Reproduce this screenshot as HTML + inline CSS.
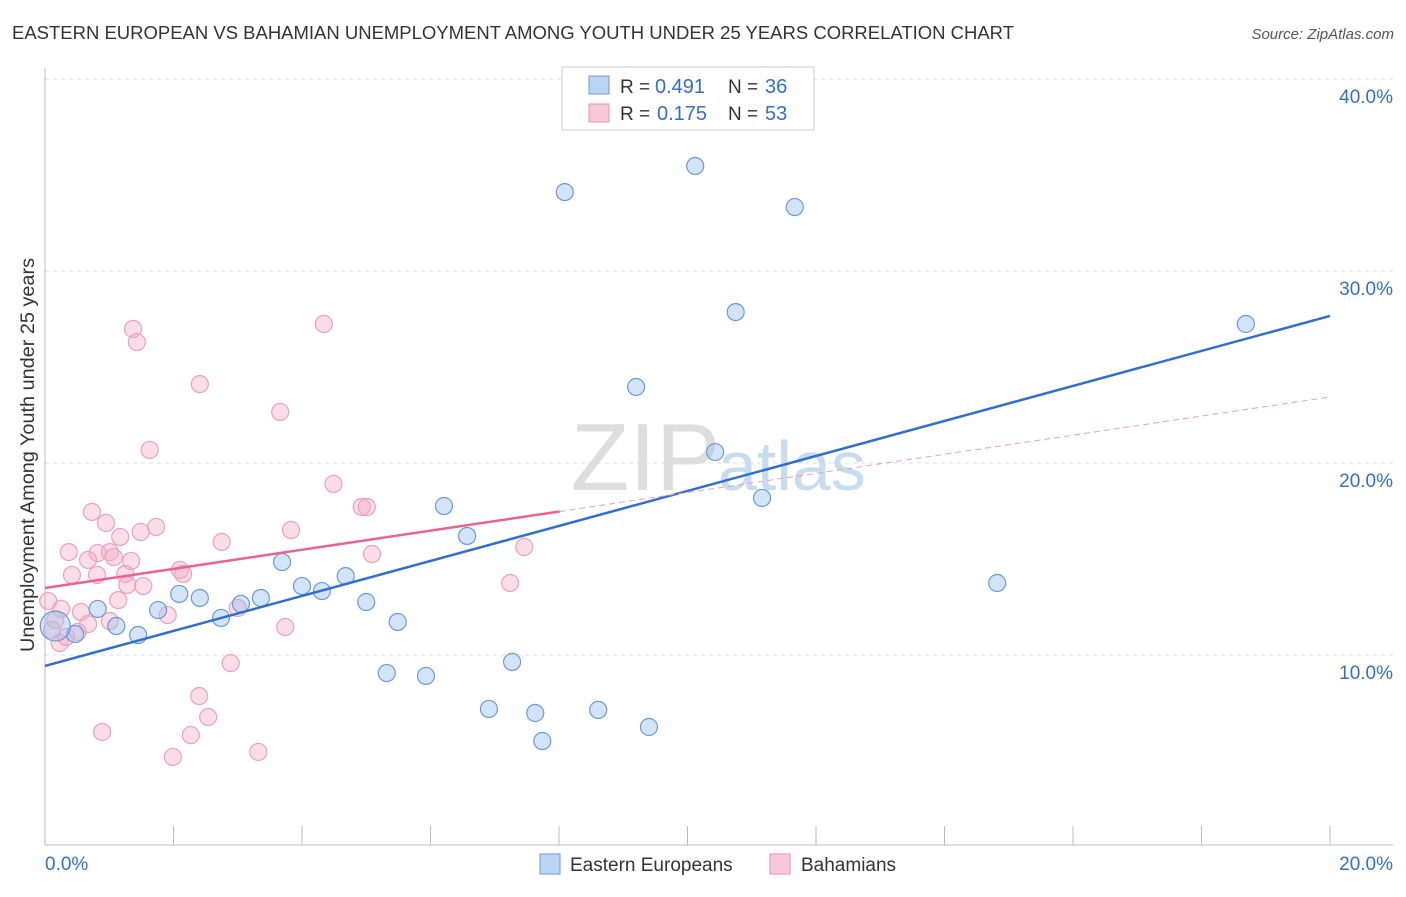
<!DOCTYPE html>
<html><head><meta charset="utf-8"><style>
body{margin:0;background:#fff;font-family:"Liberation Sans",sans-serif}
svg text{font-family:"Liberation Sans",sans-serif}
</style></head><body>
<svg width="1406" height="892">
<text x="12" y="39" font-size="18" fill="#333" textLength="1002" lengthAdjust="spacingAndGlyphs">EASTERN EUROPEAN VS BAHAMIAN UNEMPLOYMENT AMONG YOUTH UNDER 25 YEARS CORRELATION CHART</text>
<text x="1394" y="39" font-size="15" fill="#555" text-anchor="end" font-style="italic">Source: ZipAtlas.com</text>
<g id="grid"></g>
<text x="720" y="490" font-size="96" fill="#ddd" text-anchor="end" font-family="Liberation Serif">ZIP</text>
<text x="718" y="490" font-size="70" fill="#c8dcf0">atlas</text>
<g id="marks"></g>
<text x="34" y="455" font-size="19" fill="#333" text-anchor="middle" transform="rotate(-90 34 455)" textLength="394" lengthAdjust="spacingAndGlyphs">Unemployment Among Youth under 25 years</text>
<g>
<rect x="562" y="67" width="252" height="63" fill="#fff" stroke="#ccc"/>
<rect x="589" y="76" width="20" height="18" fill="#bcd4f4" stroke="#6a9ad8"/>
<rect x="589" y="104" width="20" height="18" fill="#f9c8d8" stroke="#e890b0"/>
<text x="620" y="93" font-size="19" fill="#333">R =</text><text x="655" y="93" font-size="20" fill="#2f6fd0">0.491</text>
<text x="728" y="93" font-size="19" fill="#333">N =</text><text x="765" y="93" font-size="20" fill="#2f6fd0">36</text>
<text x="620" y="120" font-size="19" fill="#333">R =</text><text x="657" y="120" font-size="20" fill="#2f6fd0">0.175</text>
<text x="728" y="120" font-size="19" fill="#333">N =</text><text x="765" y="120" font-size="20" fill="#2f6fd0">53</text>
</g>
<g>
<rect x="540" y="854" width="20" height="20" fill="#bcd4f4" stroke="#6a9ad8"/>
<text x="570" y="871" font-size="19" fill="#333">Eastern Europeans</text>
<rect x="770" y="854" width="20" height="20" fill="#f9c8d8" stroke="#e890b0"/>
<text x="801" y="871" font-size="19" fill="#333">Bahamians</text>
</g>
</svg>
<script>
const yTicks=[10,20,30,40];
const yTickLabels=["10.0%","20.0%","30.0%","40.0%"];
const xTickLabels=["0.0%","20.0%"];
const blueX=[8.09,10.12,11.67,10.75,18.69,9.20,10.43,11.16,6.21,6.57,3.69,4.68,4.00,4.31,2.09,2.41,3.05,3.36,1.76,0.82,5.00,2.74,1.11,1.45,0.47,0.16,5.49,14.82,5.32,5.93,7.27,6.91,7.63,8.61,7.74,9.40];
const blueY=[34.11,35.47,33.33,27.86,27.24,23.96,20.57,18.18,17.76,16.20,14.84,14.11,13.59,13.33,13.18,12.97,12.66,12.97,12.34,12.40,12.76,11.93,11.51,11.04,11.09,11.51,11.72,13.75,9.06,8.91,9.64,7.19,6.98,7.14,5.52,6.25];
const pinkX=[1.37,1.43,4.34,2.41,3.66,1.63,4.49,4.93,5.01,0.73,0.95,1.73,1.49,1.17,2.75,3.83,0.37,0.82,1.01,1.07,1.34,0.67,0.42,0.81,1.25,2.10,2.15,1.53,1.28,5.09,7.46,7.24,0.05,0.25,1.14,0.56,1.01,0.67,1.91,3.00,3.74,2.89,2.40,2.54,2.27,0.89,1.99,3.32,0.16,0.23,0.33,0.51,0.11];
const pinkY=[26.98,26.30,27.24,24.11,22.66,20.68,18.91,17.71,17.71,17.45,16.88,16.67,16.41,16.15,15.89,16.51,15.36,15.31,15.36,15.10,14.90,14.95,14.17,14.17,14.22,14.43,14.22,13.59,13.65,15.26,15.63,13.75,12.81,12.40,12.86,12.24,11.77,11.61,12.08,12.45,11.46,9.58,7.86,6.77,5.83,5.99,4.69,4.95,11.82,10.63,10.94,11.20,11.30];
const blueTrend=[9.43,27.66];
const pinkTrend=[13.49,23.44];
const pinkSolidEnd=8.01;

const sx=v=>45+v*64.25, sy=v=>847-v*19.2;
const NS="http://www.w3.org/2000/svg";
function mk(p,t,a){const e=document.createElementNS(NS,t);for(const k in a)e.setAttribute(k,a[k]);p.appendChild(e);return e;}
const g=document.getElementById('grid'), m=document.getElementById('marks');
yTicks.forEach((t,i)=>{
 const l=mk(g,'line',{x1:45,x2:1393,y1:sy(t),y2:sy(t),stroke:'#ddd','stroke-dasharray':'4,4'});
 
 
 const tx=mk(g,'text',{x:1393,y:sy(t)+24,'font-size':19,fill:'#2f6fd0','text-anchor':'end'});tx.textContent=yTickLabels[i];
 
 
});
mk(g,'line',{x1:45,x2:45,y1:68,y2:845,stroke:'#bbb'});
mk(g,'line',{x1:45,x2:1393,y1:845,y2:845,stroke:'#bbb'});
for(let i=0;i<=10;i++){mk(g,'line',{x1:sx(i*2),x2:sx(i*2),y1:826,y2:845,stroke:'#bbb'});}
const xl=[[0,'start',45],[20,'end',1393]];
xl.forEach((d,i)=>{const t=mk(g,'text',{x:d[2],y:870,'font-size':19,fill:'#2f6fd0','text-anchor':d[1]});t.textContent=xTickLabels[i];
 
 });
pinkX.forEach((x,i)=>{const c=mk(m,'circle',{cx:sx(x),cy:sy(pinkY[i]),r:8.5,fill:'rgba(246,170,195,0.4)',stroke:'#eca0bc','stroke-width':1.2});
 
 });
blueX.forEach((x,i)=>{const c=mk(m,'circle',{cx:sx(x),cy:sy(blueY[i]),r:i==25?15:8.5,fill:'rgba(160,195,240,0.45)',stroke:'#6a9ad8','stroke-width':1.2});
 
 });
const bl=mk(m,'line',{x1:sx(0),y1:sy(blueTrend[0]),x2:sx(20),y2:sy(blueTrend[1]),stroke:'#2f6fd0','stroke-width':2.5});


const pe=pinkTrend[0]+(pinkTrend[1]-pinkTrend[0])*pinkSolidEnd/20;
const pl=mk(m,'line',{x1:sx(0),y1:sy(pinkTrend[0]),x2:sx(pinkSolidEnd),y2:sy(pe),stroke:'#e8648f','stroke-width':2.5});


const pd=mk(m,'line',{x1:sx(pinkSolidEnd),y1:sy(pe),x2:sx(20),y2:sy(pinkTrend[1]),stroke:'#e8a0b8','stroke-width':1,'stroke-dasharray':'6,4'});


</script>
</body></html>
